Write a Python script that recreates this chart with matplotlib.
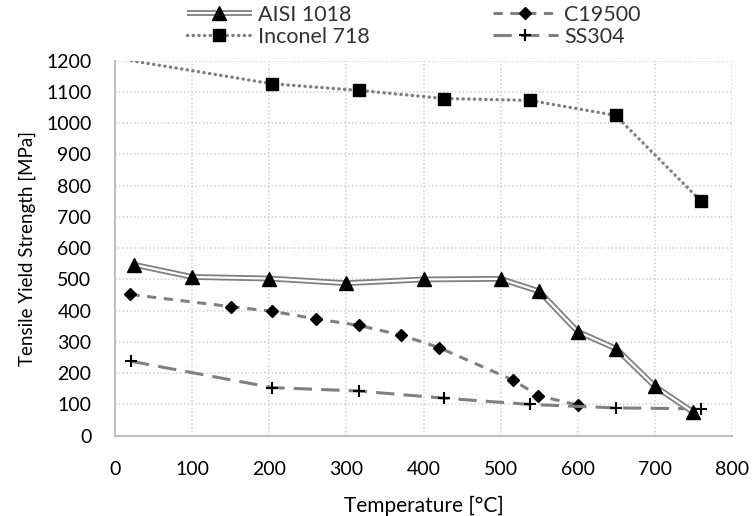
import matplotlib
matplotlib.use("Agg")
import matplotlib.pyplot as plt
from matplotlib.lines import Line2D

plt.rcParams['font.family'] = ['Lato', 'DejaVu Sans']

# data
aisi_t = [25, 100, 200, 300, 400, 500, 550, 600, 650, 700, 750]
aisi_y = [547, 508, 503, 488, 500, 502, 462, 333, 278, 158, 75]

c195_t = [20, 150, 204, 260, 316, 371, 420, 516, 549, 600]
c195_y = [452, 413, 398, 374, 353, 322, 282, 178, 128, 98]

inco_t = [21, 204, 316, 427, 538, 649, 760]
inco_y = [1200, 1126, 1105, 1079, 1073, 1025, 750]

ss_t = [21, 204, 316, 427, 538, 649, 760]
ss_y = [238, 154, 143, 120, 100, 89, 86]

gray = '#808080'
W, H = 753, 516

fig = plt.figure(figsize=(W / 100, H / 100), dpi=100)
ax = fig.add_axes([115 / W, 80.3 / H, 617 / W, 375 / H])

# AISI 1018: double line (gray outline, white core)
ax.plot(aisi_t, aisi_y, color=gray, lw=4.2, solid_capstyle='butt', zorder=3)
ax.plot(aisi_t, aisi_y, color='white', lw=1.6, solid_capstyle='butt', zorder=3.1)
ax.plot(aisi_t, aisi_y, ls='none', marker='^', color='black', ms=10, zorder=3.2)

# C19500
ax.plot(c195_t, c195_y, color=gray, lw=2.2, ls=(0, (3, 2.5)),
        marker='D', ms=6, mfc='black', mec='black', zorder=3)

# Inconel 718 (first point's marker sits off the top of the chart)
ax.plot(inco_t, inco_y, color=gray, lw=2.4, ls=(0, (0.1, 1.6)),
        dash_capstyle='round', zorder=3)
ax.plot(inco_t[1:], inco_y[1:], ls='none', marker='s', ms=8,
        color='black', zorder=3.2)

# SS304
ax.plot(ss_t, ss_y, color=gray, lw=2.2, ls=(0, (6, 3)),
        marker='+', ms=9, mew=1.5, mec='black', zorder=3)

ax.set_xlim(0, 800)
ax.set_ylim(0, 1200)
ax.set_xticks(range(0, 801, 100))
ax.set_yticks(range(0, 1201, 100))
ax.tick_params(length=0, labelsize=14)
ax.tick_params(axis='x', pad=18)
ax.tick_params(axis='y', pad=17)
ax.grid(True, color='#d0d0d0', ls=(0, (1, 1.5)), lw=1.1)
ax.set_axisbelow(True)
for s in ['top', 'right']:
    ax.spines[s].set_visible(False)
for s in ['left', 'bottom']:
    ax.spines[s].set_color('#bfbfbf')
    ax.spines[s].set_linewidth(1.5)

ax.set_xlabel('Temperature [°C]', fontsize=15, labelpad=13)
ax.set_ylabel('Tensile Yield Strength [MPa]', fontsize=13.5, labelpad=7)

# legend: one entry per box so the two columns line up exactly
h_aisi = (Line2D([], [], color=gray, lw=4.2, solid_capstyle='butt'),
          Line2D([], [], color='white', lw=1.6, solid_capstyle='butt'),
          Line2D([], [], ls='none', marker='^', color='black', ms=10))
h_c195 = Line2D([], [], color=gray, lw=2.2, ls=(0, (3, 2.5)),
                marker='D', ms=6, mfc='black', mec='black')
h_inco = (Line2D([], [], color=gray, lw=2.4, ls=(0, (0.1, 1.6)), dash_capstyle='round'),
          Line2D([], [], ls='none', marker='s', ms=8, color='black'))
h_ss = Line2D([], [], color=gray, lw=2.2, ls=(0, (6, 3)),
              marker='+', ms=9, mew=1.5, mec='black')

entries = [(h_aisi, 'AISI 1018', 187, 15),
           (h_c195, 'C19500', 493, 15),
           (h_inco, 'Inconel 718', 187, 37),
           (h_ss, 'SS304', 493, 37)]
for h, lab, px, py in entries:
    leg = fig.legend([h], [lab], loc='center left',
                     bbox_to_anchor=(px / W, 1 - py / H),
                     frameon=False, fontsize=15.5, handlelength=3.0,
                     handletextpad=0.3, borderpad=0, borderaxespad=0)
    for t in leg.get_texts():
        t.set_color('#333333')

fig.savefig('out.png', dpi=100)
